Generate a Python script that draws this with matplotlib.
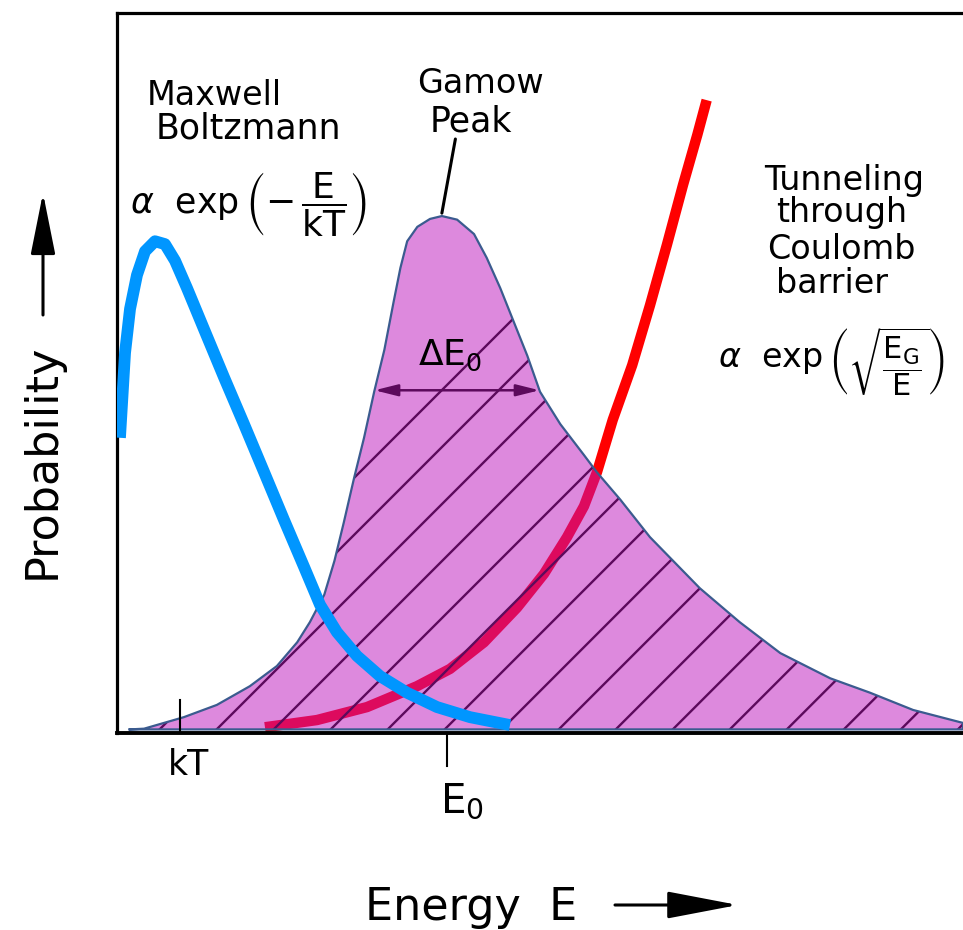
import numpy as np
import matplotlib.pyplot as plt
from matplotlib.patches import Polygon

plt.rcParams['font.family'] = ['DejaVu Sans']
plt.rcParams['mathtext.fontset'] = 'dejavusans'

# energy in arbitrary units (0..10), probability (0..1)
gamow_E = [0.15, 0.32, 0.79, 1.18, 1.57, 1.89, 2.13, 2.28, 2.45, 2.57, 2.68, 2.80, 2.92, 3.04,
           3.16, 3.27, 3.35, 3.43, 3.55, 3.70, 3.84, 4.02, 4.22, 4.37, 4.53, 4.69, 4.85, 5.00,
           5.24, 5.52, 5.67, 5.95, 6.30, 6.89, 7.36, 7.84, 8.43, 8.90, 9.41, 10.0]
gamow_P = [0.005, 0.006, 0.022, 0.039, 0.065, 0.093, 0.126, 0.154, 0.192, 0.239, 0.292, 0.353,
           0.410, 0.474, 0.532, 0.599, 0.646, 0.683, 0.703, 0.714, 0.718, 0.713, 0.693, 0.660,
           0.618, 0.571, 0.524, 0.474, 0.429, 0.386, 0.3625, 0.324, 0.272, 0.201, 0.154, 0.111,
           0.076, 0.056, 0.032, 0.014]

mb_E = [0.035, 0.059, 0.095, 0.154, 0.236, 0.331, 0.449, 0.567, 0.686, 0.827, 1.028, 1.265,
        1.501, 1.738, 1.974, 2.210, 2.400, 2.600, 2.837, 3.109, 3.428, 3.783, 4.173, 4.645]
mb_P = [0.410, 0.457, 0.528, 0.589, 0.636, 0.669, 0.683, 0.679, 0.656, 0.618, 0.561, 0.494,
        0.429, 0.3625, 0.296, 0.231, 0.178, 0.140, 0.107, 0.079, 0.056, 0.036, 0.022, 0.011]

tun_E = [1.749, 2.364, 2.955, 3.546, 3.936, 4.338, 4.728, 5.047, 5.319, 5.520, 5.674, 5.86,
         6.09, 6.30, 6.50, 6.69, 6.86, 6.97]
tun_P = [0.008, 0.018, 0.036, 0.065, 0.089, 0.126, 0.174, 0.221, 0.272, 0.315, 0.3625, 0.435,
         0.511, 0.594, 0.678, 0.761, 0.831, 0.879]

kT = 0.745
E0 = 3.90
dE0_level = 0.476
hatch_start = 1.135
hatch_step = 0.674

W, H = 963, 930
fig = plt.figure(figsize=(W / 100, H / 100), dpi=100)
ax = fig.add_axes([117 / W, 1 - 733 / H, 846 / W, 720 / H])
ax.set_xlim(0, 10)
ax.set_ylim(0, 1)
ax.set_xticks([])
ax.set_yticks([])
ax.spines['right'].set_visible(False)
ax.spines['left'].set_linewidth(2.3)
ax.spines['bottom'].set_linewidth(2.8)
ax.spines['top'].set_linewidth(2.3)

def fx(x):
    return x / W

def fy(y):
    return 1 - y / H

# tunneling probability (red), underneath the gamow fill
ax.plot(tun_E, tun_P, color='#ff0000', lw=7.5, solid_capstyle='butt', solid_joinstyle='round',
        zorder=1, clip_on=False)

# gamow peak fill
base = 0.005
verts = list(zip(gamow_E, gamow_P)) + [(gamow_E[-1], base), (gamow_E[0], base)]
poly = Polygon(verts, closed=True, facecolor=(188 / 255, 20 / 255, 188 / 255, 0.5),
               edgecolor='none', zorder=2)
ax.add_patch(poly)

# hatch lines, 45 degrees on screen
slope = (846 / 10) / 720
for k in range(20):
    e_start = hatch_start + (k - 2) * hatch_step
    xs = np.array([e_start, e_start + 1.2 / slope])
    ln, = ax.plot(xs, (xs - e_start) * slope, color='#5c0a5c', lw=1.7, zorder=3)
    ln.set_clip_path(poly)

ax.plot(gamow_E + [gamow_E[-1], gamow_E[0]], gamow_P + [base, base], color='#3b5b8f', lw=1.6,
        solid_joinstyle='round', zorder=4)

# width arrow
gE = np.array(gamow_E)
gP = np.array(gamow_P)
ipk = int(np.argmax(gP))
left_E = np.interp(dE0_level, gP[:ipk + 1], gE[:ipk + 1])
right_E = np.interp(dE0_level, gP[ipk:][::-1], gE[ipk:][::-1])
ax.annotate('', xy=(left_E, dE0_level), xytext=(right_E, dE0_level),
            arrowprops=dict(arrowstyle='<|-|>,head_length=1.0,head_width=0.25',
                            color='#5c0a5c', lw=1.8, shrinkA=0, shrinkB=0,
                            mutation_scale=14), zorder=4)

# maxwell boltzmann (blue)
ax.plot(mb_E, mb_P, color='#0096ff', lw=8.5, solid_capstyle='butt', solid_joinstyle='round',
        zorder=5)

# ticks
ax.plot([kT, kT], [0, 0.046], color='black', lw=1.5, zorder=6)
ax.plot([E0, E0], [0, -0.046], color='black', lw=1.5, zorder=6, clip_on=False)

# gamow peak pointer
ax.annotate('', xy=(gE[ipk], gP[ipk] + 0.004), xytext=(4.0, 0.825),
            arrowprops=dict(arrowstyle='-', color='black', lw=2.2, shrinkA=0, shrinkB=0))

# labels
fig.text(fx(147), fy(105), 'Maxwell', fontsize=24, va='baseline')
fig.text(fx(156), fy(138), 'Boltzmann', fontsize=25, va='baseline')
fig.text(fx(130), fy(205), r'$\alpha$  exp', fontsize=25, va='center')
fig.text(fx(245), fy(205), r'$\left(-\,\dfrac{\mathrm{E}}{\mathrm{kT}}\right)$',
         fontsize=26, va='center')

fig.text(fx(417), fy(93), 'Gamow', fontsize=24, va='baseline')
fig.text(fx(430), fy(132), 'Peak', fontsize=25, va='baseline')

for txt, xc, yb in [('Tunneling', 844, 190), ('through', 842, 222),
                    ('Coulomb', 841, 259), ('barrier', 832, 293)]:
    fig.text(fx(xc), fy(yb), txt, fontsize=24, ha='center', va='baseline')
fig.text(fx(718), fy(360), r'$\alpha$  exp', fontsize=24, va='center')
fig.text(fx(828), fy(362), r'$\left(\sqrt{\dfrac{\mathrm{E_G}}{\mathrm{E}}}\right)$',
         fontsize=22, va='center')

fig.text(fx(418), fy(365), r'$\mathregular{\Delta E_0}$', fontsize=26, va='baseline', zorder=7)
fig.text(fx(440), fy(812), r'$\mathregular{E_0}$', fontsize=29, va='baseline')
fig.text(fx(168), fy(775), 'kT', fontsize=25, va='baseline')

fig.text(fx(42), fy(461), 'Probability', rotation=90, fontsize=32, ha='center', va='center')
fig.text(fx(365), fy(920), 'Energy  E', fontsize=32, va='baseline')

# axis arrows
ax.annotate('', xy=(43, H - 193), xytext=(43, H - 315), xycoords='figure pixels',
            arrowprops=dict(arrowstyle='-|>,head_length=1.9,head_width=0.38', color='black',
                            lw=2.2, shrinkA=0, shrinkB=0, mutation_scale=20))
ax.annotate('', xy=(738, H - 905), xytext=(615, H - 905), xycoords='figure pixels',
            arrowprops=dict(arrowstyle='-|>,head_length=2.2,head_width=0.42', color='black',
                            lw=2.2, shrinkA=0, shrinkB=0, mutation_scale=20))

fig.savefig('out.png', dpi=100)
